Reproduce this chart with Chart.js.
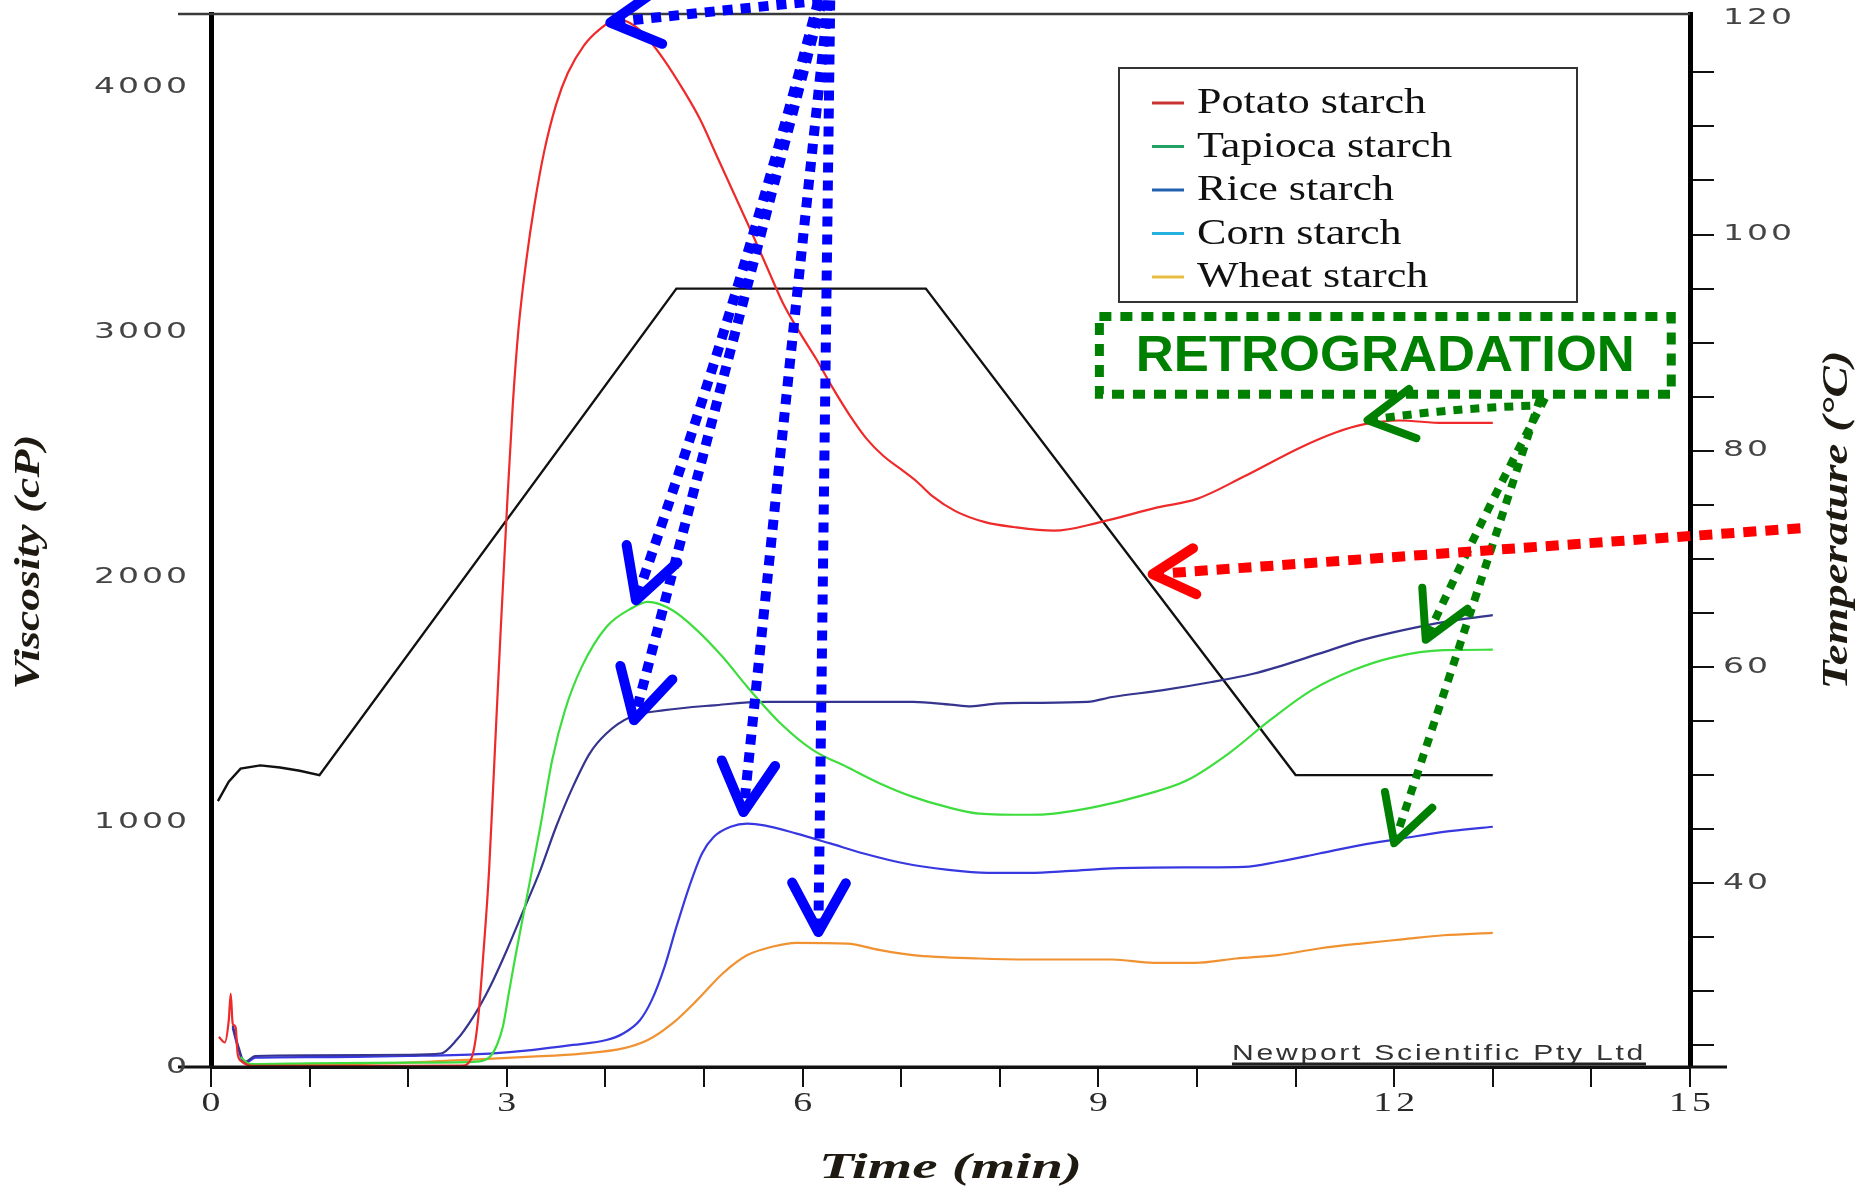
<!DOCTYPE html>
<html lang="en">
<head>
<meta charset="UTF-8" />
<title>RVA pasting profiles | starches</title>
<script src="https://cdn.jsdelivr.net/npm/chart.js"></script>
<style>
  html, body { margin: 0; padding: 0; background: #fff; }
</style>
</head>
<body>
<canvas id="rvaChart" width="1874" height="1196"></canvas>

<script>
// Viscosity traces: [time (min), viscosity (cP)]
const potato = [[0.08,123],[0.14,100],[0.18,190],[0.20,300],[0.215,200],[0.22,177],[0.25,162],[0.27,54],[0.31,23],[0.42,5],[1.00,5],[2.00,5],[2.55,6],[2.60,12],[2.66,60],[2.71,200],[2.76,450],[2.82,800],[2.88,1300],[2.94,1800],[3.00,2270],[3.06,2700],[3.12,3020],[3.20,3300],[3.28,3520],[3.38,3740],[3.50,3930],[3.62,4060],[3.78,4170],[3.95,4240],[4.12,4280],[4.30,4250],[4.45,4190],[4.60,4110],[4.79,3990],[4.96,3870],[5.13,3720],[5.30,3570],[5.47,3420],[5.64,3265],[5.80,3120],[5.97,3000],[6.14,2890],[6.31,2770],[6.48,2660],[6.65,2565],[6.82,2495],[7.00,2440],[7.16,2390],[7.32,2330],[7.55,2270],[7.85,2225],[8.14,2205],[8.55,2190],[9.02,2225],[9.60,2285],[10.00,2320],[10.47,2410],[11.05,2530],[11.40,2590],[11.70,2625],[12.05,2640],[12.50,2630],[13.00,2630]];
const tapioca = [[0.30,40],[0.40,12],[1.00,15],[2.00,18],[2.60,20],[2.75,25],[2.83,42],[2.90,90],[2.96,164],[3.02,300],[3.08,436],[3.21,708],[3.34,981],[3.46,1253],[3.59,1457],[3.76,1634],[4.01,1797],[4.26,1872],[4.43,1899],[4.68,1865],[4.93,1783],[5.19,1674],[5.44,1552],[5.78,1402],[6.11,1293],[6.45,1225],[6.79,1157],[7.12,1103],[7.46,1062],[7.79,1035],[8.30,1030],[8.55,1035],[8.97,1062],[9.39,1103],[9.90,1171],[10.32,1280],[10.74,1416],[11.16,1538],[11.58,1620],[12.00,1674],[12.50,1702],[13.00,1704]];
const rice = [[0.22,170],[0.28,80],[0.34,20],[0.45,45],[1.00,48],[2.00,50],[2.33,55],[2.49,110],[2.66,205],[2.83,328],[3.00,477],[3.17,640],[3.34,804],[3.50,981],[3.67,1144],[3.84,1280],[4.01,1362],[4.26,1430],[4.60,1457],[5.10,1477],[5.61,1491],[6.28,1491],[7.12,1491],[7.50,1480],[7.71,1473],[7.96,1484],[8.30,1487],[8.89,1491],[9.14,1511],[9.64,1538],[10.15,1572],[10.57,1606],[10.82,1634],[11.24,1688],[11.66,1742],[12.08,1783],[12.50,1817],[13.00,1845]];
const corn = [[0.22,160],[0.28,70],[0.34,15],[0.45,38],[1.00,40],[2.00,45],[2.83,55],[3.25,69],[3.67,90],[4.01,110],[4.18,137],[4.35,191],[4.47,273],[4.60,409],[4.72,572],[4.85,736],[4.98,872],[5.10,940],[5.27,981],[5.44,994],[5.61,987],[5.94,953],[6.28,913],[6.62,872],[7.04,831],[7.46,806],[7.88,793],[8.30,793],[8.72,801],[9.14,811],[9.98,815],[10.48,817],[10.82,838],[11.24,872],[11.66,906],[12.08,933],[12.50,960],[13.00,981]];
const wheat = [[0.32,30],[0.42,6],[1.00,10],[2.00,18],[2.41,26],[3.25,42],[3.76,55],[4.18,76],[4.43,110],[4.68,178],[4.93,273],[5.19,382],[5.44,457],[5.69,491],[5.94,507],[6.45,504],[6.79,477],[7.12,457],[7.79,443],[8.30,439],[9.14,439],[9.56,425],[9.98,425],[10.40,443],[10.82,457],[11.24,484],[11.66,504],[12.08,521],[12.50,538],[13.00,548]];
// Temperature profile: [time (min), °C]
const temperature = [[0.07,47.6],[0.18,49.4],[0.30,50.6],[0.50,50.9],[0.70,50.7],[0.90,50.4],[1.10,50.0],[4.72,95],[7.25,95],[11.00,50],[13.00,50]];

const seriesNames = ['Potato starch', 'Tapioca starch', 'Rice starch', 'Corn starch', 'Wheat starch'];
const lineColors = ['#ee2a2a', '#3ddd3d', '#35358f', '#3838e0', '#f09232'];
const legendColors = ['#c83232', '#25a065', '#2060b0', '#25b0e0', '#e8bc40'];

const xTickLabels = [0, 3, 6, 9, 12, 15];
const yTickLabels = [0, 1000, 2000, 3000, 4000];
const y1TickLabels = [40, 60, 80, 100, 120];

// Hand-drawn annotations, in data units [time, cP]: start, bend, tip
const blueArrows = [
  [[6.20, 4355], [4.96, 4306], [4.05, 4265]],
  [[6.16, 4355], [5.36, 3130], [4.31, 1906]],
  [[6.20, 4355], [5.24, 2886], [4.29, 1416]],
  [[6.26, 4355], [5.82, 2698], [5.40, 1041]],
  [[6.28, 4355], [6.22, 2453], [6.16, 551]]
];
const greenArrows = [
  [[13.38, 2700], [12.55, 2690], [11.73, 2641]],
  [[13.53, 2731], [12.90, 2250], [12.32, 1745]],
  [[13.48, 2731], [12.75, 1820], [12.00, 914]]
];
const redArrows = [[[16.12, 2200], [12.80, 2106], [9.55, 2012]]];
const retroBox = [[9.01, 3065], [14.81, 2747]];
const retroText = 'RETROGRADATION';

function toXY(arr) { return arr.map(p => ({ x: p[0], y: p[1] })); }

function line(ctx, x1, y1, x2, y2) {
  ctx.beginPath(); ctx.moveTo(x1, y1); ctx.lineTo(x2, y2); ctx.stroke();
}

// text squeezed/stretched to a given length (figure fonts are wide)
function fitText(ctx, text, cx, cy, width, rot) {
  ctx.save();
  ctx.translate(cx, cy);
  ctx.rotate(rot || 0);
  const w = ctx.measureText(text).width;
  ctx.scale(width / w, 1);
  ctx.textAlign = 'center';
  ctx.textBaseline = 'middle';
  ctx.fillText(text, 0, 0);
  ctx.restore();
}

// spaced, horizontally scaled tick label
function tickText(ctx, text, x, y, align, sx, spacing) {
  ctx.save();
  ctx.letterSpacing = spacing + 'px';
  const w = (ctx.measureText(text).width - spacing) * sx;
  const x0 = align === 'right' ? x - w : align === 'center' ? x - w / 2 : x;
  ctx.translate(x0, y);
  ctx.scale(sx, 1);
  ctx.textAlign = 'left';
  ctx.textBaseline = 'middle';
  ctx.fillText(text, 0, 0);
  ctx.restore();
}

function dottedArrow(ctx, chart, pts, color, width, dash, head) {
  const { x, y } = chart.scales;
  const P = pts.map(p => [x.getPixelForValue(p[0]), y.getPixelForValue(p[1])]);
  ctx.save();
  ctx.strokeStyle = color;
  ctx.lineWidth = width;
  ctx.setLineDash(dash);
  ctx.lineCap = 'butt';
  ctx.beginPath();
  ctx.moveTo(P[0][0], P[0][1]);
  ctx.quadraticCurveTo(P[1][0], P[1][1], P[2][0], P[2][1]);
  ctx.stroke();
  const ang = Math.atan2(P[2][1] - P[1][1], P[2][0] - P[1][0]);
  ctx.setLineDash([]);
  ctx.lineCap = 'round';
  ctx.lineJoin = 'round';
  ctx.beginPath();
  ctx.moveTo(P[2][0] - head * Math.cos(ang - 0.5), P[2][1] - head * Math.sin(ang - 0.5));
  ctx.lineTo(P[2][0], P[2][1]);
  ctx.lineTo(P[2][0] - head * Math.cos(ang + 0.5), P[2][1] - head * Math.sin(ang + 0.5));
  ctx.stroke();
  ctx.restore();
}

const keepMultiples = step => axis => {
  axis.ticks = axis.ticks.filter(t => Math.abs(t.value / step - Math.round(t.value / step)) < 1e-6);
};

const decor = {
  id: 'decor',
  afterDraw(chart) {
    const { ctx, chartArea: a, scales: { x, y, y1 } } = chart;
    ctx.save();

    // frame pieces the axes don't draw
    ctx.strokeStyle = '#3a3a3a'; ctx.lineWidth = 2.5;
    line(ctx, a.left - 33, a.top, a.right, a.top);
    ctx.strokeStyle = '#111'; ctx.lineWidth = 3;
    line(ctx, a.left - 33, a.bottom, a.right + 37, a.bottom);

    // tick labels
    ctx.fillStyle = '#444';
    ctx.font = '22px "DejaVu Sans"';
    yTickLabels.forEach(v => tickText(ctx, String(v), a.left - 24, y.getPixelForValue(v), 'right', 1.5, 2));
    y1TickLabels.forEach(v => tickText(ctx, String(v), a.right + 33, y1.getPixelForValue(v), 'left', 1.5, 2));
    ctx.fillStyle = '#2a2a2a';
    ctx.font = '28px "Liberation Serif"';
    xTickLabels.forEach(v => tickText(ctx, String(v), x.getPixelForValue(v), a.bottom + 37, 'center', 1.35, 3));

    // axis titles
    ctx.fillStyle = '#1e1a12';
    ctx.font = 'bold italic 36px "Liberation Serif"';
    fitText(ctx, 'Viscosity (cP)', 30, 562, 255, -Math.PI / 2);
    fitText(ctx, 'Temperature (°C)', 1838, 520, 339, -Math.PI / 2);
    fitText(ctx, 'Time (min)', (a.left + a.right) / 2, 1169, 263, 0);

    // instrument watermark
    ctx.fillStyle = '#333';
    ctx.font = '22px "Liberation Sans"';
    ctx.letterSpacing = '2px';
    fitText(ctx, 'Newport Scientific Pty Ltd', a.right - 44 - 207, a.bottom - 13, 414, 0);
    ctx.letterSpacing = '0px';
    ctx.strokeStyle = '#222'; ctx.lineWidth = 3;
    line(ctx, a.right - 44 - 414, a.bottom - 3, a.right - 44, a.bottom - 3);

    // legend
    const lg = { x: a.left + 908, y: a.top + 54, w: 458, h: 234 };
    ctx.strokeStyle = '#333'; ctx.lineWidth = 2;
    ctx.strokeRect(lg.x, lg.y, lg.w, lg.h);
    seriesNames.forEach((name, i) => {
      const cy = lg.y + 35 + i * 43.5;
      ctx.strokeStyle = legendColors[i]; ctx.lineWidth = 3;
      line(ctx, lg.x + 33, cy, lg.x + 65, cy);
      ctx.save();
      ctx.translate(lg.x + 78, cy + 10);
      ctx.scale(1.26, 1);
      ctx.font = '35px "Liberation Serif"';
      ctx.fillStyle = '#111';
      ctx.textBaseline = 'alphabetic';
      ctx.fillText(name, 0, 0);
      ctx.restore();
    });

    // retrogradation box
    const bx1 = x.getPixelForValue(retroBox[0][0]), by1 = y.getPixelForValue(retroBox[0][1]);
    const bx2 = x.getPixelForValue(retroBox[1][0]), by2 = y.getPixelForValue(retroBox[1][1]);
    ctx.strokeStyle = '#008000'; ctx.lineWidth = 9;
    ctx.setLineDash([12, 9]);
    ctx.strokeRect(bx1, by1, bx2 - bx1, by2 - by1);
    ctx.setLineDash([]);
    ctx.fillStyle = '#008000';
    ctx.font = 'bold 50px "Liberation Sans"';
    fitText(ctx, retroText, (bx1 + bx2) / 2, (by1 + by2) / 2 + 2, 499, 0);

    // arrows
    blueArrows.forEach(p => dottedArrow(ctx, chart, p, '#0000ff', 10, [10, 8], 56));
    greenArrows.forEach(p => dottedArrow(ctx, chart, p, '#008000', 8, [9, 8], 52));
    redArrows.forEach(p => dottedArrow(ctx, chart, p, '#ff0000', 10, [13, 9], 48));

    ctx.restore();
  }
};

const traces = [potato, tapioca, rice, corn, wheat];
const datasets = traces.map((tr, i) => ({
  label: seriesNames[i],
  data: toXY(tr),
  borderColor: lineColors[i],
  borderWidth: 2.2,
  pointRadius: 0,
  cubicInterpolationMode: 'monotone',
  yAxisID: 'y'
}));
datasets.push({
  label: 'Temperature',
  data: toXY(temperature),
  borderColor: '#111',
  borderWidth: 2.4,
  pointRadius: 0,
  tension: 0,
  yAxisID: 'y1'
});

const tickGrid = len => ({ drawOnChartArea: false, drawTicks: true, tickLength: len, color: '#111', lineWidth: 2 });

new Chart(document.getElementById('rvaChart').getContext('2d'), {
  type: 'line',
  data: { datasets },
  options: {
    responsive: false,
    animation: false,
    devicePixelRatio: 1,
    layout: { padding: { top: 14, left: 0, right: 0, bottom: 0 } },
    plugins: { legend: { display: false }, tooltip: { enabled: false } },
    scales: {
      x: {
        type: 'linear', min: 0, max: 15,
        ticks: { stepSize: 1, display: false },
        grid: tickGrid(20),
        border: { display: true, color: '#111', width: 3 },
        afterFit(s) { s.height = 129; }
      },
      y: {
        type: 'linear', position: 'left', min: 0, max: 4300,
        ticks: { stepSize: 250, display: false },
        afterBuildTicks: keepMultiples(250),
        grid: tickGrid(26),
        border: { display: true, color: '#000', width: 5 },
        afterFit(s) { s.width = 211; }
      },
      y1: {
        type: 'linear', position: 'right', min: 23, max: 120.4,
        ticks: { stepSize: 5, display: false },
        afterBuildTicks: keepMultiples(5),
        grid: tickGrid(24),
        border: { display: true, color: '#000', width: 5 },
        afterFit(s) { s.width = 184; }
      }
    }
  },
  plugins: [decor]
});
</script>
</body>
</html>
